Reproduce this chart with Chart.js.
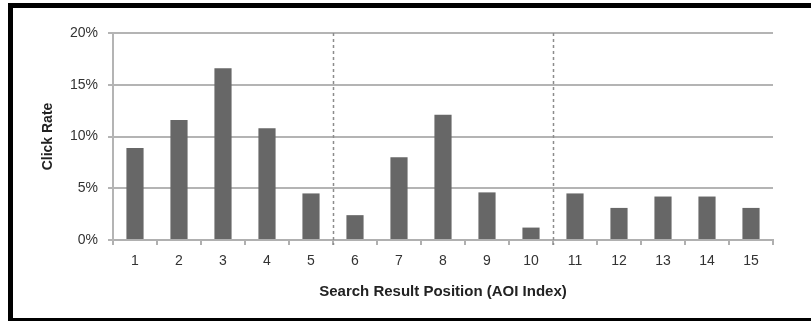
<!DOCTYPE html>
<html>
<head>
<meta charset="utf-8">
<script src="https://cdn.jsdelivr.net/npm/chart.js@4/dist/chart.umd.min.js"></script>
<style>
  html, body { margin: 0; padding: 0; background: #fff; }
  #wrap { position: relative; width: 811px; height: 321px; overflow: hidden; }
  #frame {
    position: absolute; left: 8px; top: 3px; width: 900px; height: 310px;
    border-left: 5px solid #000; border-top: 5px solid #000; border-bottom: 5px solid #000;
  }
  canvas { position: absolute; left: 0; top: 0; }
</style>
</head>
<body>
<div id="wrap">
  <div id="frame"></div>
  <canvas id="clickChart" width="811" height="321"></canvas>
</div>
<script>
// positions 1..15, click rate in percent
const positions = ['1', '2', '3', '4', '5', '6', '7', '8', '9', '10', '11', '12', '13', '14', '15'];
const clickRates = [8.9, 11.6, 16.6, 10.8, 4.5, 2.4, 8.0, 12.1, 4.6, 1.2, 4.5, 3.1, 4.2, 4.2, 3.1];
const yTicks = [0, 5, 10, 15, 20];
// dashed separators after these positions
const groupBreaks = [5, 10];

const fontFamily = '"Liberation Sans", Arial, sans-serif';

const groupLines = {
  id: 'groupLines',
  afterDatasetsDraw(chart) {
    const { ctx, scales: { x, y } } = chart;
    ctx.save();
    ctx.strokeStyle = '#8c8c8c';
    ctx.lineWidth = 1.5;
    ctx.setLineDash([3, 3]);
    groupBreaks.forEach(b => {
      const px = Math.round((x.getPixelForValue(b - 1) + x.getPixelForValue(b)) / 2) + 0.5;
      ctx.beginPath();
      ctx.moveTo(px, y.getPixelForValue(yTicks[yTicks.length - 1]));
      ctx.lineTo(px, y.bottom + 5);
      ctx.stroke();
    });
    ctx.restore();
  }
};

new Chart(document.getElementById('clickChart'), {
  type: 'bar',
  data: {
    labels: positions,
    datasets: [{
      data: clickRates,
      backgroundColor: '#676767',
      borderWidth: 0,
      categoryPercentage: 1,
      barPercentage: 0.39
    }]
  },
  options: {
    responsive: false,
    animation: false,
    layout: { padding: { left: 40, right: 38, top: 33, bottom: 20 } },
    plugins: { legend: { display: false }, tooltip: { enabled: false } },
    scales: {
      x: {
        afterFit: s => { s.height = 61; },
        grid: {
          offset: true,
          drawOnChartArea: false,
          drawTicks: true,
          tickLength: 5,
          color: '#b0b0b0',
          lineWidth: 2
        },
        border: { color: '#b0b0b0', width: 2 },
        ticks: { color: '#333', padding: 8, font: { family: fontFamily, size: 14 } },
        title: {
          display: true,
          text: 'Search Result Position (AOI Index)',
          color: '#222',
          padding: 0,
          font: { family: fontFamily, size: 15, weight: 'bold' }
        }
      },
      y: {
        min: 0,
        max: 20,
        afterFit: s => { s.width = 73; },
        afterBuildTicks: s => { s.ticks = yTicks.map(v => ({ value: v })); },
        grid: { color: '#b4b4b4', lineWidth: 2, tickLength: 5 },
        border: { color: '#b4b4b4', width: 2 },
        ticks: {
          color: '#333',
          padding: 10,
          font: { family: fontFamily, size: 14 },
          callback: v => v + '%'
        },
        title: {
          display: true,
          text: 'Click Rate',
          color: '#222',
          padding: 0,
          font: { family: fontFamily, size: 14, weight: 'bold' }
        }
      }
    }
  },
  plugins: [groupLines]
});
</script>
</body>
</html>
